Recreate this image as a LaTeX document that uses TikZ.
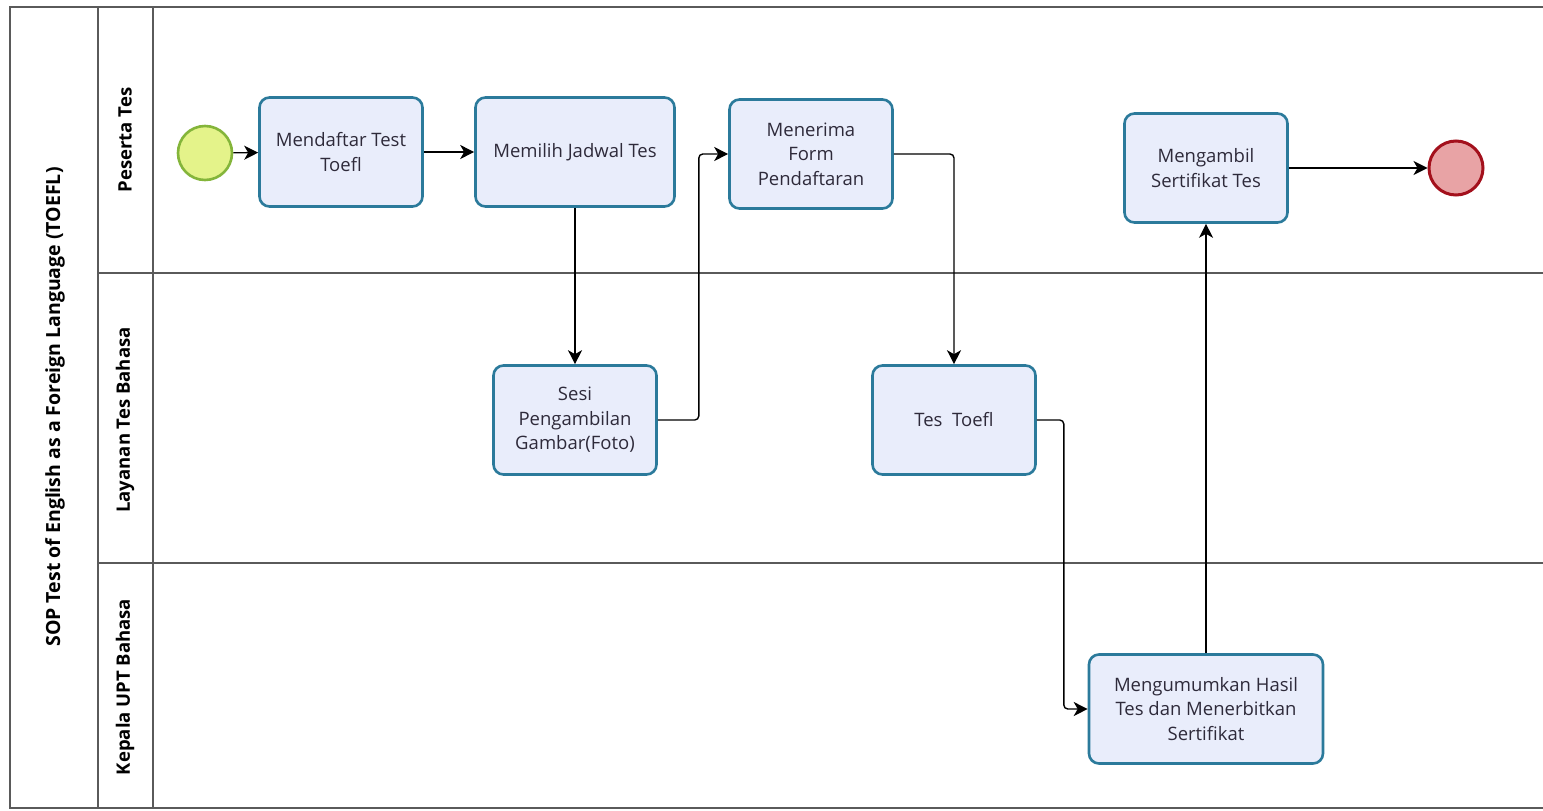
\documentclass[tikz,border=0pt]{standalone}
\usepackage{fontspec}
\setmainfont{Open Sans}
\usetikzlibrary{arrows.meta}
\definecolor{taskfill}{HTML}{E9EDFB}
\definecolor{taskdraw}{HTML}{2B7A9B}
\definecolor{txt}{HTML}{2E2A3A}
\definecolor{startfill}{HTML}{E4F38A}
\definecolor{startdraw}{HTML}{84B53A}
\definecolor{endfill}{HTML}{E8A3A5}
\definecolor{enddraw}{HTML}{A3101C}
\definecolor{poolline}{HTML}{5A5A5A}
\begin{document}
\begin{tikzpicture}[x=1pt,y=-1pt,
  task/.style={draw=taskdraw, fill=taskfill, line width=2.6pt, rounded corners=10pt,
    minimum width=163pt, minimum height=109pt, inner sep=2pt, align=center,
    text=txt, font=\fontsize{18.5}{24.5}\selectfont},
  flow/.style={draw=black, line width=1.4pt, rounded corners=4pt,
    -{Stealth[length=14pt,width=14pt,inset=4pt]}},
  lanelabel/.style={rotate=90, font=\bfseries\fontsize{18.5}{22}\selectfont, text=black},
  laneline/.style={draw=poolline, line width=1.4pt}]
\fill[white] (0,0) rectangle (1543,811);
\useasboundingbox (0,0) rectangle (1543,811);
% pool and lanes
\draw[laneline] (1560,7) -- (10,7) -- (10,808) -- (1560,808);
\draw[laneline] (98,7) -- (98,808);
\draw[laneline] (153,7) -- (153,808);
\draw[laneline] (98,273) -- (1560,273);
\draw[laneline] (98,563) -- (1560,563);
\node[lanelabel, font=\bfseries\fontsize{19.5}{22}\selectfont] (pool) at (55,407) {SOP Test of English as a Foreign Language (TOEFL)};
\node[lanelabel] (l1) at (125,140) {Peserta Tes};
\node[lanelabel] (l2) at (125,420) {Layanan Tes Bahasa};
\node[lanelabel] (l3) at (125,687) {Kepala UPT Bahasa};
% events
\node[circle, draw=startdraw, fill=startfill, line width=2.6pt, minimum size=54pt, inner sep=0pt] (start) at (205,153) {};
\node[circle, draw=enddraw, fill=endfill, line width=3pt, minimum size=54pt, inner sep=0pt] (end) at (1456,168) {};
% tasks
\node[task] (daftar) at (341,152) {Mendaftar Test\\Toefl};
\node[task, minimum width=199pt] (jadwal) at (575,152) {Memilih Jadwal Tes};
\node[task] (form) at (811,154) {Menerima\\Form\\Pendaftaran};
\node[task] (ambil) at (1206,168) {Mengambil\\Sertifikat Tes};
\node[task] (foto) at (575,420) {Sesi\\Pengambilan\\Gambar(Foto)};
\node[task] (tes) at (954,420) {Tes~~Toefl};
\node[task, minimum width=234pt] (umum) at (1206,709) {Mengumumkan Hasil\\Tes dan Menerbitkan\\Sertifikat};
% flows
\draw[flow] (start) -- (daftar);
\draw[flow] (daftar) -- (jadwal);
\draw[flow] (jadwal) -- (foto);
\draw[flow] (foto.east) -- ++(41,0) |- (form.west);
\draw[flow] (form.east) -| (tes.north);
\draw[flow] (tes.east) -- ++(27,0) |- (umum.west);
\draw[flow] (umum) -- (ambil);
\draw[flow] (ambil) -- (end);
\end{tikzpicture}
\end{document}
